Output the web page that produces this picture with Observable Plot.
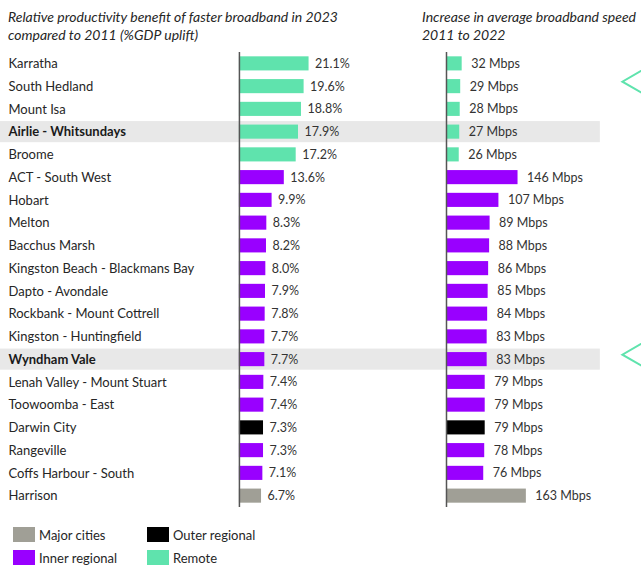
<!DOCTYPE html>
<html>
<head>
<meta charset="utf-8">
<script src="https://cdn.jsdelivr.net/npm/d3@7"></script>
<script src="https://cdn.jsdelivr.net/npm/@observablehq/plot@0.6"></script>
<style>
  html, body { margin: 0; padding: 0; background: #fff; }
  #wrap { position: relative; width: 641px; height: 566px; overflow: hidden; font-family: Lato, "Open Sans", sans-serif; color: #262626; }
  .hdr { position: absolute; font-style: italic; font-size: 14px; line-height: 18px; color: #262626; white-space: nowrap; }
  #left { position: absolute; left: 0; top: 50px; }
  #right { position: absolute; left: 430px; top: 50px; }
  #legend { position: absolute; left: 13px; top: 527px; display: grid; grid-template-columns: 134px 140px; row-gap: 8px; font-size: 13px; }
  .li { display: flex; align-items: center; height: 15px; }
  .sw { width: 22px; height: 15px; margin-right: 4px; }
</style>
</head>
<body>
<div id="wrap">
  <div class="hdr" style="left:8px; top:8px;">Relative productivity benefit of faster broadband in 2023<br>compared to 2011 (%GDP uplift)</div>
  <div class="hdr" style="left:422px; top:8px;">Increase in average broadband speed<br>2011 to 2022</div>
  <div id="left"></div>
  <div id="right"></div>
  <div id="legend"></div>
</div>
<script>
const names = ["Karratha", "South Hedland", "Mount Isa", "Airlie - Whitsundays", "Broome", "ACT - South West", "Hobart", "Melton", "Bacchus Marsh", "Kingston Beach - Blackmans Bay", "Dapto - Avondale", "Rockbank - Mount Cottrell", "Kingston - Huntingfield", "Wyndham Vale", "Lenah Valley - Mount Stuart", "Toowoomba - East", "Darwin City", "Rangeville", "Coffs Harbour - South", "Harrison"];
const gdpUplift = [21.1, 19.6, 18.8, 17.9, 17.2, 13.6, 9.9, 8.3, 8.2, 8.0, 7.9, 7.8, 7.7, 7.7, 7.4, 7.4, 7.3, 7.3, 7.1, 6.7];
const speedIncrease = [32, 29, 28, 27, 26, 146, 107, 89, 88, 86, 85, 84, 83, 83, 79, 79, 79, 78, 76, 163];
const regions = ["Remote", "Remote", "Remote", "Remote", "Remote", "Inner regional", "Inner regional", "Inner regional", "Inner regional", "Inner regional", "Inner regional", "Inner regional", "Inner regional", "Inner regional", "Inner regional", "Inner regional", "Outer regional", "Inner regional", "Inner regional", "Major cities"];
const highlighted = ["Airlie - Whitsundays", "Wyndham Vale"];
const arrowRows = ["South Hedland", "Wyndham Vale"];
const legendOrder = ["Major cities", "Outer regional", "Inner regional", "Remote"];
const regionColors = ["#a09f96", "#000000", "#9900ff", "#5fe3ad"];

const rows = names.map((n, i) => ({name: n, gdp: gdpUplift[i], speed: speedIncrease[i], region: regions[i], bold: highlighted.includes(n)}));
const hl = rows.filter(d => d.bold);
const plain = rows.filter(d => !d.bold);

const colorScale = {domain: legendOrder, range: regionColors};
const H = 459;
const yOpts = {domain: names, paddingInner: 0.38, paddingOuter: 0.19, round: false, axis: null};
const font = "Lato, 'Open Sans', sans-serif";

// chevron symbol (shape geometry only)
const chevron = {
  draw(ctx, size) {
    const s = Math.sqrt(size / Math.PI);
    ctx.moveTo(2 * s, -1.16 * s);
    ctx.lineTo(0, 0);
    ctx.lineTo(2 * s, 1.16 * s);
  }
};

// Left chart
const lx = [-72.4, 57.9];
const left = Plot.plot({
  width: 430, height: H,
  marginLeft: 0, marginRight: 0, marginTop: 2, marginBottom: 2,
  x: {domain: lx, axis: null},
  y: yOpts,
  color: colorScale,
  style: {fontFamily: font, fontSize: "12.5px", color: "#262626"},
  marks: [
    Plot.barX(hl, {x1: lx[0], x2: lx[1], y: "name", fill: "#e8e8e8", insetTop: -3.5, insetBottom: -3.5}),
    Plot.barX(rows, {x: "gdp", y: "name", fill: "region"}),
    Plot.ruleX([0], {stroke: "#555", strokeWidth: 1.5}),
    Plot.text(plain, {x: lx[0], y: "name", text: "name", dx: 8, textAnchor: "start", fill: "#262626", fontSize: 13}),
    Plot.text(hl, {x: lx[0], y: "name", text: "name", dx: 8, textAnchor: "start", fill: "#1a1a1a", fontSize: 13, fontWeight: "bold"}),
    Plot.text(rows, {x: "gdp", y: "name", text: d => d.gdp.toFixed(1) + "%", dx: 6, textAnchor: "start", fill: "#333", fontSize: 12.5})
  ]
});
document.getElementById("left").append(left);

// Right chart
const rx = [-32.65, 398];
const right = Plot.plot({
  width: 211, height: H,
  marginLeft: 0, marginRight: 0, marginTop: 2, marginBottom: 2,
  x: {domain: rx, axis: null},
  y: yOpts,
  color: colorScale,
  style: {fontFamily: font, fontSize: "12.5px", color: "#262626", overflow: "visible"},
  marks: [
    Plot.barX(hl, {x1: rx[0], x2: 314, y: "name", fill: "#e8e8e8", insetTop: -3.5, insetBottom: -3.5}),
    Plot.barX(rows, {x: "speed", y: "name", fill: "region"}),
    Plot.ruleX([0], {stroke: "#555", strokeWidth: 1.5}),
    Plot.text(rows, {x: "speed", y: "name", text: d => d.speed + " Mbps", dx: 9, textAnchor: "start", fill: "#333", fontSize: 12.5}),
    Plot.dot(arrowRows, {x: 359, y: d => d, symbol: chevron, r: 17, fill: "none", stroke: "#5fe3ad", strokeWidth: 2, dy: -5})
  ]
});
document.getElementById("right").append(right);

// Legend
const leg = document.getElementById("legend");
legendOrder.forEach((r, i) => {
  const el = document.createElement("div");
  el.className = "li";
  el.innerHTML = `<span class="sw" style="background:${regionColors[i]}"></span><span>${r}</span>`;
  leg.append(el);
});
</script>
</body>
</html>
